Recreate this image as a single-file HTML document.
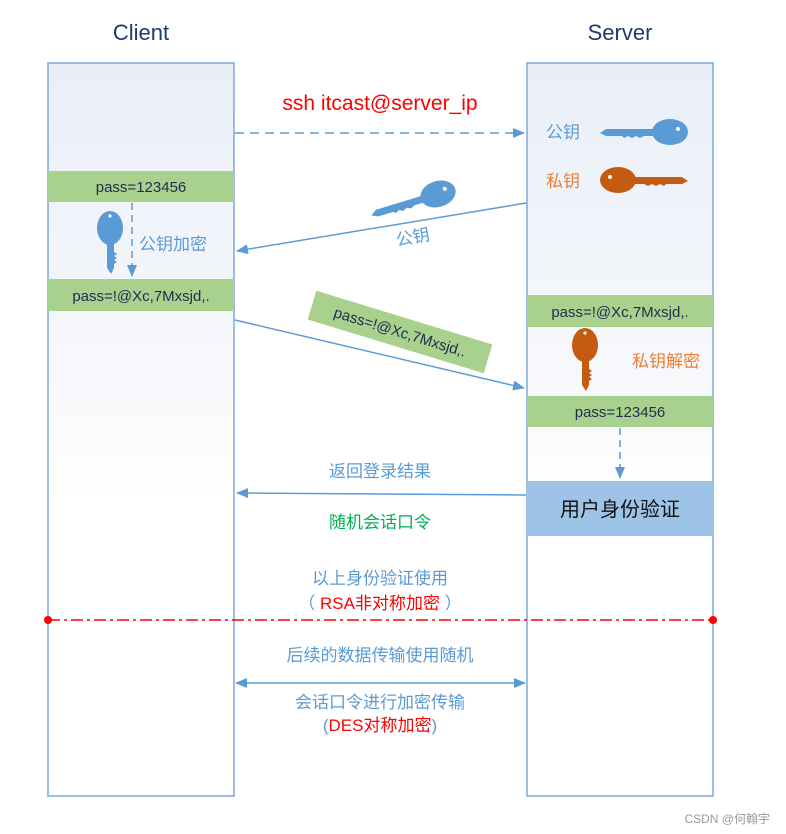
<!DOCTYPE html>
<html><head><meta charset="utf-8"><style>
html,body{margin:0;padding:0;background:#fff;}
svg{display:block;}
text{font-family:"Liberation Sans","Noto Sans CJK SC",sans-serif;}
</style></head><body>
<svg width="786" height="834" viewBox="0 0 786 834" xmlns="http://www.w3.org/2000/svg">
<defs>
<linearGradient id="bg" x1="0" y1="0" x2="0" y2="1">
<stop offset="0" stop-color="#e9eef7"/><stop offset="0.45" stop-color="#f8f9fc"/><stop offset="0.6" stop-color="#ffffff"/><stop offset="1" stop-color="#ffffff"/>
</linearGradient>
<g id="key">
<ellipse cx="0" cy="0" rx="18" ry="13"/>
<path d="M-10,-3 L-64,-3 L-70,1 L-64,4 L-48,4 L-46,6 L-42,4 L-38,6 L-34,4 L-30,6 L-26,4 L-10,4 Z"/>
<circle cx="8" cy="-3" r="2" fill="#fff"/>
</g>
<g id="vkey">
<ellipse cx="0" cy="0" rx="13" ry="17"/>
<path d="M-3,10 L-3,40 L1,46 L4,40 L4,36 L7,34 L4,32 L7,30 L4,28 L7,26 L4,24 L4,10 Z"/>
<circle cx="0" cy="-12" r="1.6" fill="#fff"/>
</g>
<marker id="ar" markerWidth="12" markerHeight="10" refX="11" refY="5" orient="auto" markerUnits="userSpaceOnUse">
<path d="M0,0 L12,5 L0,10 Z" fill="#5b9bd5"/></marker>
<marker id="al" markerWidth="12" markerHeight="10" refX="1" refY="5" orient="auto" markerUnits="userSpaceOnUse">
<path d="M12,0 L0,5 L12,10 Z" fill="#5b9bd5"/></marker>
</defs>

<text x="141" y="40" font-size="22" fill="#203a6e" text-anchor="middle">Client</text>
<text x="620" y="40" font-size="22" fill="#203a6e" text-anchor="middle">Server</text>

<rect x="48" y="63" width="186" height="733" fill="url(#bg)" stroke="#7da7d8" stroke-width="1.5"/>
<rect x="527" y="63" width="186" height="733" fill="url(#bg)" stroke="#7da7d8" stroke-width="1.5"/>

<!-- client bars -->
<rect x="48" y="171" width="186" height="31" fill="#a9d18e"/>
<text x="141" y="192" font-size="15" fill="#1f2d50" text-anchor="middle">pass=123456</text>
<rect x="48" y="279" width="186" height="32" fill="#a9d18e"/>
<text x="141" y="301" font-size="15" fill="#1f2d50" text-anchor="middle">pass=!@Xc,7Mxsjd,.</text>
<line x1="132" y1="203" x2="132" y2="276" stroke="#5b9bd5" stroke-width="1.5" stroke-dasharray="7,5" marker-end="url(#ar)"/>
<g fill="#5b9bd5" transform="translate(110,228)"><use href="#vkey"/></g>
<text x="139" y="250" font-size="17" fill="#5b9bd5">公钥加密</text>

<!-- server bars -->
<rect x="527" y="295" width="186" height="32" fill="#a9d18e"/>
<text x="620" y="317" font-size="15" fill="#1f2d50" text-anchor="middle">pass=!@Xc,7Mxsjd,.</text>
<rect x="527" y="396" width="186" height="31" fill="#a9d18e"/>
<text x="620" y="417" font-size="15" fill="#1f2d50" text-anchor="middle">pass=123456</text>
<line x1="620" y1="428" x2="620" y2="478" stroke="#5b9bd5" stroke-width="1.5" stroke-dasharray="7,5" marker-end="url(#ar)"/>
<rect x="527" y="481" width="186" height="55" fill="#9dc3e6"/>
<text x="620" y="516" font-size="20" fill="#111" text-anchor="middle">用户身份验证</text>

<g fill="#5b9bd5" transform="translate(670,132)"><use href="#key"/></g>
<text x="546" y="138" font-size="17" fill="#5b9bd5">公钥</text>
<g fill="#c55a11" transform="translate(618,180) scale(-1,1)"><use href="#key"/></g>
<text x="546" y="187" font-size="17" fill="#ed7d31">私钥</text>
<g fill="#c55a11" transform="translate(585,345)"><use href="#vkey"/></g>
<text x="632" y="367" font-size="17" fill="#ed7d31">私钥解密</text>

<!-- arrows -->
<text x="380" y="110" font-size="21" fill="#ff0000" text-anchor="middle">ssh itcast@server_ip</text>
<line x1="235" y1="133" x2="524" y2="133" stroke="#5b9bd5" stroke-width="1.5" stroke-dasharray="9,6" marker-end="url(#ar)"/>

<line x1="526" y1="203" x2="237" y2="251" stroke="#5b9bd5" stroke-width="1.5" marker-end="url(#ar)"/>
<g fill="#5b9bd5" transform="translate(438,194) rotate(-17)"><use href="#key"/></g>
<text x="0" y="0" font-size="17" fill="#5b9bd5" transform="translate(397,246) rotate(-10)">公钥</text>

<line x1="235" y1="320" x2="524" y2="388" stroke="#5b9bd5" stroke-width="1.5" marker-end="url(#ar)"/>
<g transform="translate(400,332) rotate(17)">
<rect x="-92" y="-15" width="184" height="30" fill="#a9d18e"/>
<text x="0" y="5" font-size="15" fill="#1f2d50" text-anchor="middle">pass=!@Xc,7Mxsjd,.</text>
</g>

<text x="380" y="477" font-size="17" fill="#5b9bd5" text-anchor="middle">返回登录结果</text>
<line x1="526" y1="495" x2="237" y2="493" stroke="#5b9bd5" stroke-width="1.5" marker-end="url(#ar)"/>
<text x="380" y="528" font-size="17" fill="#00b050" text-anchor="middle">随机会话口令</text>

<text x="380" y="584" font-size="17" fill="#5b9bd5" text-anchor="middle">以上身份验证使用</text>
<text x="380" y="609" font-size="17" text-anchor="middle"><tspan fill="#5b9bd5">（ </tspan><tspan fill="#ff0000">RSA非对称加密</tspan><tspan fill="#5b9bd5"> ）</tspan></text>

<line x1="48" y1="620" x2="713" y2="620" stroke="#ff0000" stroke-width="1.5" stroke-dasharray="12,4,3,4"/>
<circle cx="48" cy="620" r="4" fill="#ff0000"/>
<circle cx="713" cy="620" r="4" fill="#ff0000"/>

<text x="380" y="661" font-size="17" fill="#5b9bd5" text-anchor="middle">后续的数据传输使用随机</text>
<line x1="236" y1="683" x2="525" y2="683" stroke="#5b9bd5" stroke-width="1.5" marker-start="url(#al)" marker-end="url(#ar)"/>
<text x="380" y="708" font-size="17" fill="#5b9bd5" text-anchor="middle">会话口令进行加密传输</text>
<text x="380" y="731" font-size="17" text-anchor="middle"><tspan fill="#5b9bd5">(</tspan><tspan fill="#ff0000">DES对称加密</tspan><tspan fill="#5b9bd5">)</tspan></text>

<text x="770" y="823" font-size="12" fill="#999" text-anchor="end">CSDN @何翰宇</text>
</svg>
</body></html>
